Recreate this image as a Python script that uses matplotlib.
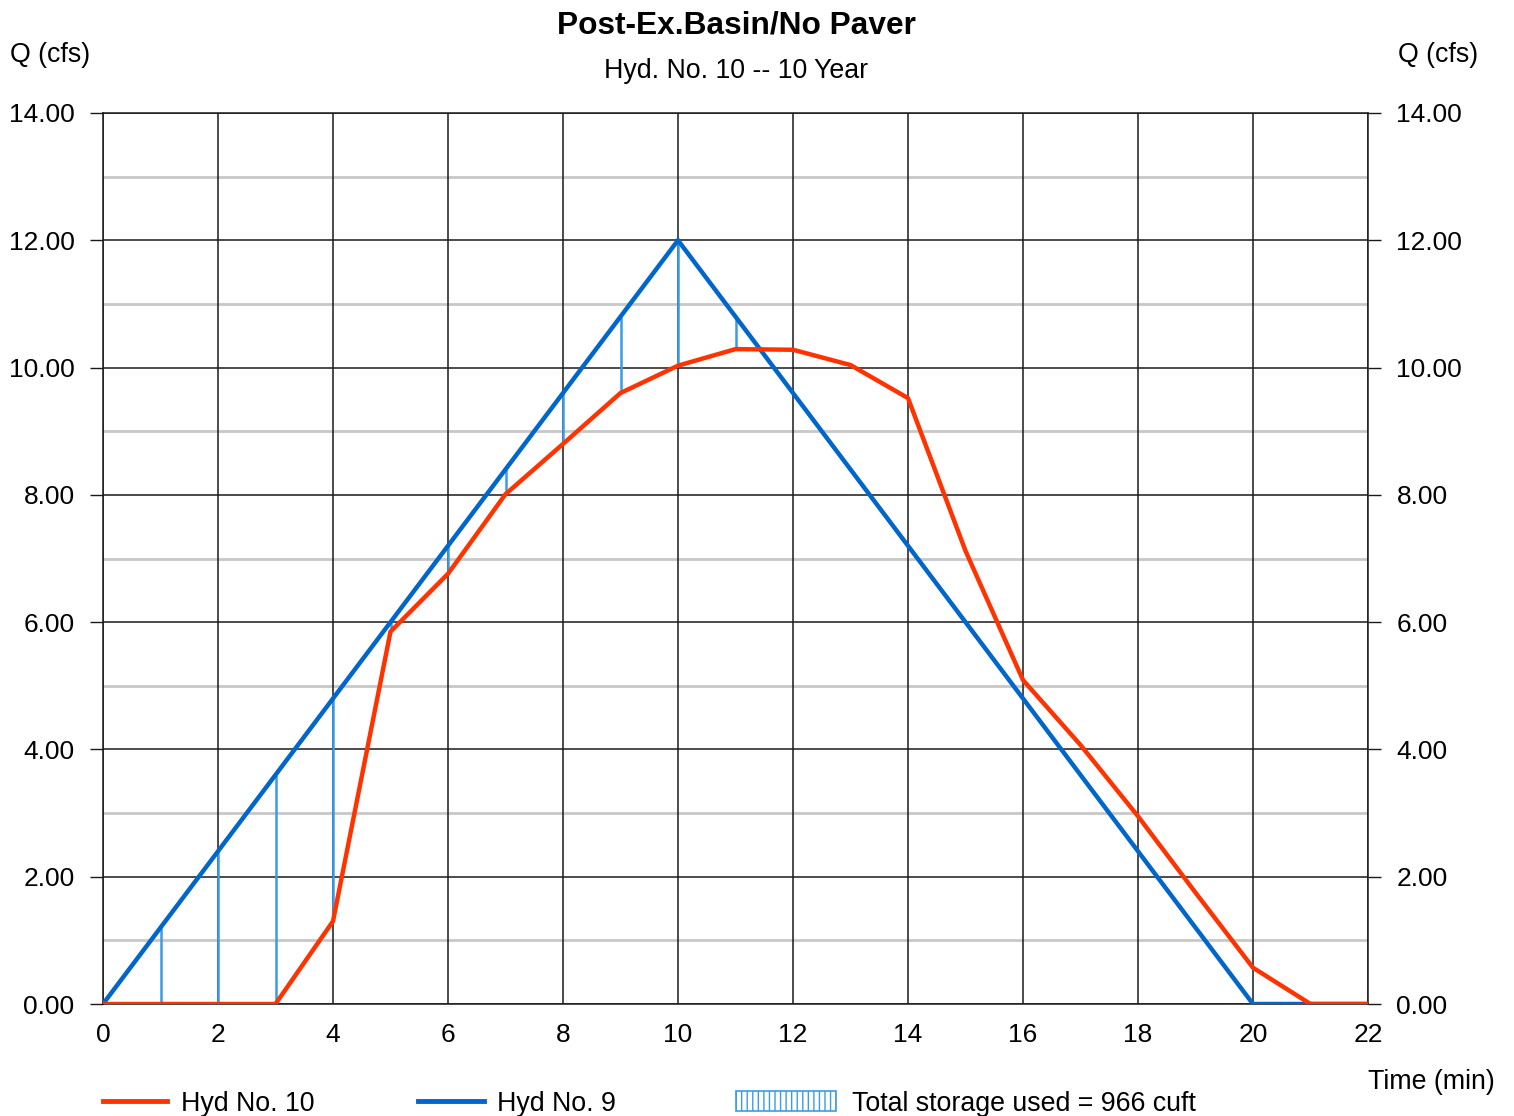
import matplotlib
matplotlib.use("Agg")
import matplotlib.pyplot as plt
from matplotlib.lines import Line2D
from matplotlib.patches import Rectangle
import numpy as np

plt.rcParams['font.family'] = ['Liberation Sans', 'DejaVu Sans']
plt.rcParams['hatch.color'] = '#3c9be6'
plt.rcParams['hatch.linewidth'] = 1.0

# Hydrograph ordinates, one per minute
time_min = [0, 1, 2, 3, 4, 5, 6, 7, 8, 9, 10, 11, 12, 13, 14, 15, 16, 17, 18, 19, 20, 21, 22]
inflow_hyd9 = [0.00, 1.20, 2.40, 3.60, 4.80, 6.00, 7.20, 8.40, 9.60, 10.80, 12.00, 10.80,
               9.60, 8.40, 7.20, 6.00, 4.80, 3.60, 2.40, 1.20, 0.00, 0.00, 0.00]
outflow_hyd10 = [0.00, 0.00, 0.00, 0.00, 1.30, 5.85, 6.76, 8.01, 8.80, 9.60, 10.03, 10.29,
                 10.28, 10.04, 9.52, 7.12, 5.09, 4.07, 2.95, 1.75, 0.57, 0.00, 0.00]

x_ticks = [0, 2, 4, 6, 8, 10, 12, 14, 16, 18, 20, 22]
y_ticks = [0, 2, 4, 6, 8, 10, 12, 14]
y_minor = [1, 3, 5, 7, 9, 11, 13]

title = "Post-Ex.Basin/No Paver"
subtitle = "Hyd. No. 10 -- 10 Year"
storage_label = "Total storage used = 966 cuft"

RED = '#ff3300'
BLUE = '#0066cc'
HATCH_BLUE = '#3c9be6'

W, H = 1514, 1116
fig = plt.figure(figsize=(W / 100, H / 100), dpi=100)
ax = fig.add_axes([103 / W, 1 - 1004 / H, (1368 - 103) / W, (1004 - 113) / H])

ax.set_xlim(0, 22)
ax.set_ylim(0, 14)

# Grid: light minor rows, black major rows and columns
for yv in y_minor:
    ax.axhline(yv, color='#c8c8c8', lw=2.0, zorder=1)
for yv in y_ticks:
    ax.axhline(yv, color='#1a1a1a', lw=1.1, zorder=1.5)
for xv in x_ticks:
    ax.axvline(xv, color='#1a1a1a', lw=1.1, zorder=1.5)

# Storage: vertical strokes where inflow exceeds outflow
t = np.array(time_min)
qi = np.array(inflow_hyd9)
qo = np.array(outflow_hyd10)
mask = (qi > qo) & (t > 0)
ax.vlines(t[mask], qo[mask], qi[mask], color=HATCH_BLUE, lw=1.8, zorder=2)

ax.plot(time_min, inflow_hyd9, color=BLUE, lw=3.2, zorder=3, solid_joinstyle='miter')
ax.plot(time_min, outflow_hyd10, color=RED, lw=3.2, zorder=4, solid_joinstyle='miter')

for s in ax.spines.values():
    s.set_color('#1a1a1a')
    s.set_linewidth(1.1)

ax.set_xticks(x_ticks)
ax.set_xticklabels([str(v) for v in x_ticks])
ax.set_yticks(y_ticks)
ax.set_yticklabels([f"{v:.2f}" for v in y_ticks])
ax.tick_params(axis='x', length=0, pad=14, labelsize=19)
ax.tick_params(axis='y', direction='out', length=9.5, width=1.0, color='#1a1a1a',
               pad=11, labelsize=19, left=True, right=True, labelleft=True, labelright=True)


def fy(py):
    # pixel row -> figure fraction (text centres sit slightly high with va='center')
    return 1 - (py + 3) / H


# Titles and axis captions
fig.text(736 / W, fy(22), title, ha='center', va='center', fontsize=22.8, fontweight='bold')
fig.text(736 / W, fy(68), subtitle, ha='center', va='center', fontsize=19.3)
fig.text(10 / W, fy(52), "Q (cfs)", ha='left', va='center', fontsize=19.3)
fig.text(1398 / W, fy(52), "Q (cfs)", ha='left', va='center', fontsize=19.3)
fig.text(1368 / W, fy(1079), "Time (min)", ha='left', va='center', fontsize=19.3)

# Legend row along the bottom
ly = 1 - 1101 / H
fig.add_artist(Line2D([103 / W, 167 / W], [ly, ly], color=RED, lw=3.5,
                      transform=fig.transFigure))
fig.text(181 / W, fy(1101), "Hyd No. 10", ha='left', va='center', fontsize=19.3)
fig.add_artist(Line2D([418 / W, 484 / W], [ly, ly], color=BLUE, lw=3.5,
                      transform=fig.transFigure))
fig.text(497 / W, fy(1101), "Hyd No. 9", ha='left', va='center', fontsize=19.3)
fig.add_artist(Rectangle((736 / W, 1 - 1111 / H), 100 / W, 20 / H,
                         transform=fig.transFigure, facecolor='white', edgecolor=HATCH_BLUE,
                         hatch='|||', lw=1.2))
fig.text(852 / W, fy(1101), storage_label, ha='left', va='center', fontsize=19.3)

fig.savefig("out.png", dpi=100)
